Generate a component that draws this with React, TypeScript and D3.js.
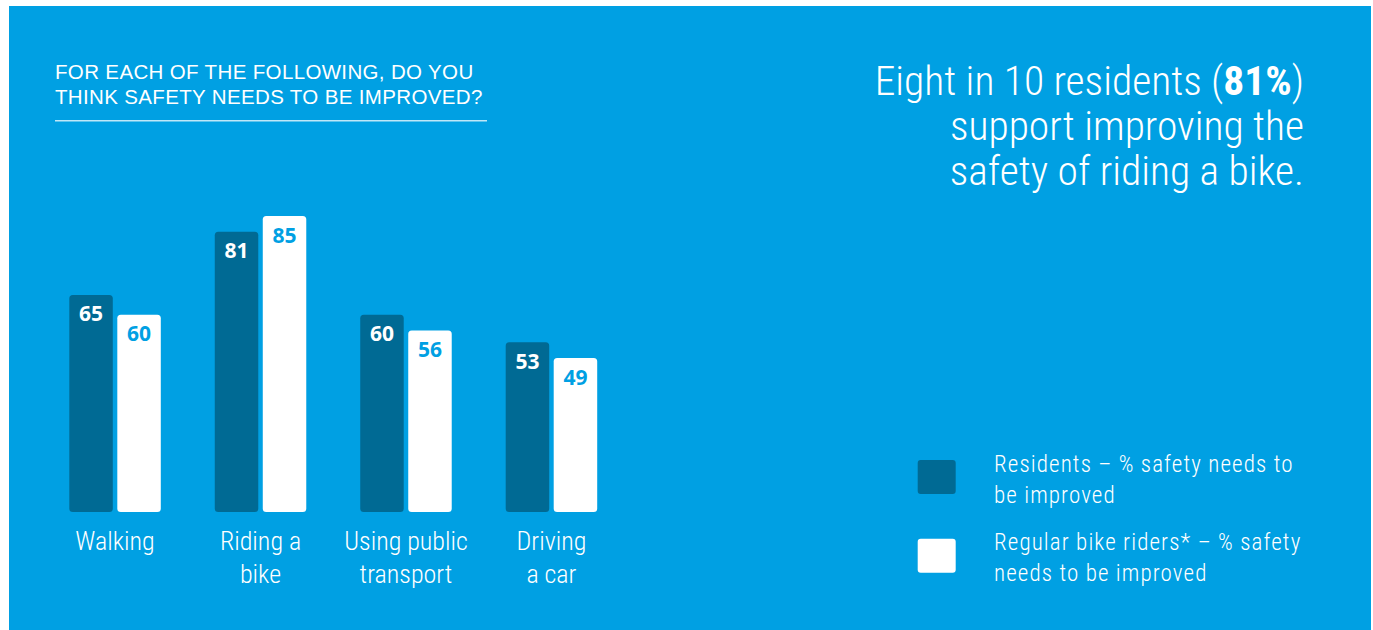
import React from "react";
import * as d3 from "d3";

const categories = ["Walking", "Riding a bike", "Using public transport", "Driving a car"];
const categoryLines = [["Walking"], ["Riding a", "bike"], ["Using public", "transport"], ["Driving", "a car"]];
const seriesNames = ["Residents", "Regular bike riders"];
const residents = [65, 81, 60, 53];
const riders = [60, 85, 56, 49];
const titleLines = ["FOR EACH OF THE FOLLOWING, DO YOU", "THINK SAFETY NEEDS TO BE IMPROVED?"];
const legendLines = [
  ["Residents – % safety needs to", "be improved"],
  ["Regular bike riders* – % safety", "needs to be improved"],
];

const W = 1373;
const H = 630;
const BLUE = "#00a0e3";
const DARK = "#006a94";
const NARROW = "'Roboto Condensed', 'Liberation Sans Narrow', 'DejaVu Sans Condensed', 'Liberation Sans', sans-serif";
const SANS = "'Liberation Sans', Arial, sans-serif";
const BOLD = "'Open Sans', 'Noto Sans', sans-serif";

export default function App() {
  const x0 = d3.scaleBand<string>().domain(categories).range([69.3, 597.2]).paddingInner(0.371).paddingOuter(0);
  const x1 = d3.scaleBand<string>().domain(seriesNames).range([0, x0.bandwidth()]).paddingInner(0.094).paddingOuter(0);
  const y = d3.scaleLinear().domain([10, 85]).range([512, 216]);
  const base = y(10);

  const series = [
    { name: seriesNames[0], values: residents, fill: DARK, text: "#ffffff" },
    { name: seriesNames[1], values: riders, fill: "#ffffff", text: BLUE },
  ];

  const roundedBar = (x: number, top: number, w: number, bottom: number, r: number) => {
    const p = d3.path();
    p.moveTo(x + r, top);
    p.lineTo(x + w - r, top);
    p.quadraticCurveTo(x + w, top, x + w, top + r);
    p.lineTo(x + w, bottom - r);
    p.quadraticCurveTo(x + w, bottom, x + w - r, bottom);
    p.lineTo(x + r, bottom);
    p.quadraticCurveTo(x, bottom, x, bottom - r);
    p.lineTo(x, top + r);
    p.quadraticCurveTo(x, top, x + r, top);
    p.closePath();
    return p.toString();
  };

  return (
    <svg width={W} height={H} style={{ position: "absolute", left: 0, top: 0, display: "block" }}>
      <rect x={0} y={0} width={W} height={H} fill="#ffffff" />
      <rect x={9} y={6} width={1362} height={H - 6} fill={BLUE} />

      {/* Title */}
      {titleLines.map((t, i) => (
        <text key={i} x={55} y={79 + i * 25} fill="#ffffff" fontFamily={SANS} fontSize={20.5} letterSpacing={0.35}>
          {t}
        </text>
      ))}
      <line x1={55} x2={487} y1={120.7} y2={120.7} stroke="#ffffff" strokeOpacity={0.75} strokeWidth={1.6} />

      {/* Bars */}
      {categories.map((c, ci) => (
        <g key={c} transform={`translate(${x0(c)},0)`}>
          {series.map((s) => {
            const bx = x1(s.name) as number;
            const bw = x1.bandwidth();
            const top = y(s.values[ci]);
            return (
              <g key={s.name}>
                <path d={roundedBar(bx, top, bw, base, 3.5)} fill={s.fill} />
                <text
                  x={bx + bw / 2}
                  y={top + 26.5}
                  textAnchor="middle"
                  fill={s.text}
                  fontFamily={BOLD}
                  fontWeight={700}
                  fontSize={21}
                >
                  {s.values[ci]}
                </text>
              </g>
            );
          })}
          {categoryLines[ci].map((ln, li) => (
            <text
              key={li}
              x={x0.bandwidth() / 2}
              y={550 + li * 33}
              textAnchor="middle"
              fill="#ffffff"
              fontFamily={NARROW}
              fontWeight={300}
              fontSize={26}
            >
              {ln}
            </text>
          ))}
        </g>
      ))}

      {/* Heading */}
      <text x={1304} y={95} textAnchor="end" fill="#ffffff" fontFamily={NARROW} fontWeight={300} fontSize={41.5}>
        {"Eight in 10 residents ("}
        <tspan fontWeight={700}>81%</tspan>
        {")"}
      </text>
      <text x={1304} y={140} textAnchor="end" fill="#ffffff" fontFamily={NARROW} fontWeight={300} fontSize={41.5}>
        support improving the
      </text>
      <text x={1304} y={185} textAnchor="end" fill="#ffffff" fontFamily={NARROW} fontWeight={300} fontSize={41.5}>
        safety of riding a bike.
      </text>

      {/* Legend */}
      {series.map((s, i) => (
        <g key={s.name}>
          <rect x={917.7} y={460 + i * 78.7} width={38} height={34} rx={3} fill={s.fill} />
          {legendLines[i].map((ln, li) => (
            <text
              key={li}
              x={994}
              y={471.7 + i * 78.3 + li * 31}
              fill="#ffffff"
              fontFamily={NARROW}
              fontWeight={300}
              fontSize={23}
              letterSpacing={1.1}
            >
              {ln}
            </text>
          ))}
        </g>
      ))}
    </svg>
  );
}
